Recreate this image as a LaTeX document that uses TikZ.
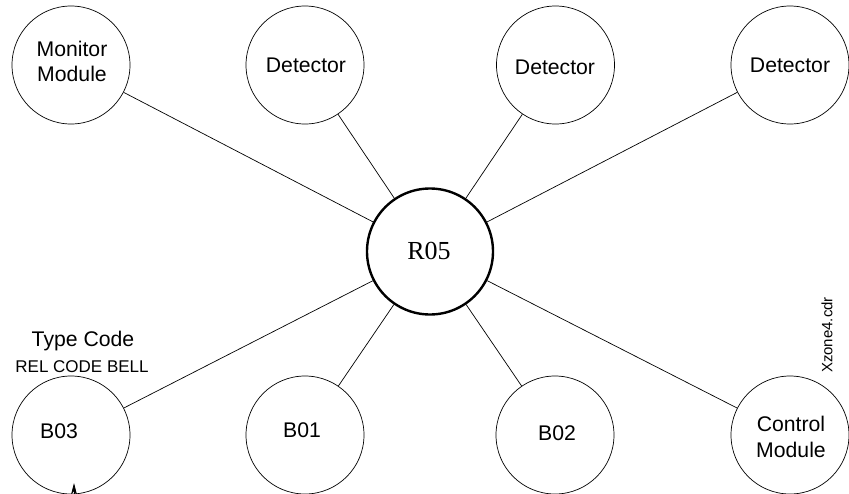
\documentclass[tikz,border=0pt]{standalone}
\usepackage{fontspec}
\setmainfont{Liberation Sans}
\newfontfamily\serifR{Liberation Serif}
\usetikzlibrary{arrows.meta}
\tikzset{
  dev/.style={circle, draw=black, line width=0.7pt, minimum size=118pt, inner sep=0pt},
  hub/.style={circle, draw=black, line width=2.4pt, minimum size=126pt, inner sep=0pt},
  txt/.style={inner sep=0pt, font=\fontsize{21.2}{24}\selectfont, text height=15.2pt, text depth=0pt},
  small/.style={inner sep=0pt, font=\fontsize{17}{20}\selectfont, text height=12.2pt, text depth=0pt},
  link/.style={draw=black, line width=0.7pt}
}
\begin{document}
\begin{tikzpicture}[x=1pt,y=-1pt]
\useasboundingbox (0,0) rectangle (849,493);
\clip (0,0) rectangle (849,493);
% circles
\node[dev] (mm) at (71,65) {};
\node[dev] (d1) at (305,65) {};
\node[dev] (d2) at (555.5,65) {};
\node[dev] (d3) at (790,65) {};
\node[dev] (b3) at (71,435) {};
\node[dev] (b1) at (305,435) {};
\node[dev] (b2) at (555,435) {};
\node[dev] (cm) at (790,435) {};
\node[hub] (r5) at (430,251.5) {};
% connectors
\foreach \n in {mm,d1,d2,d3,b3,b1,b2,cm}
  \draw[link] (r5) -- (\n);
% texts
\node[txt] (t-mon) at (72,49) {Monitor};
\node[txt] (t-mod) at (72,74) {Module};
\node[txt] (t-d1) at (306,65) {Detector};
\node[txt] (t-d2) at (555,67) {Detector};
\node[txt] (t-d3) at (790,65) {Detector};
\node[inner sep=0pt, font=\serifR\fontsize{26}{30}\selectfont, text height=17.2pt, text depth=0pt] (t-r5) at (429,251) {R05};
\node[txt] (t-type) at (83,339) {Type Code};
\node[small] (t-rel) at (82,366) {REL CODE BELL};
\node[txt] (t-b3) at (59,431) {B03};
\node[txt] (t-b1) at (302,429.5) {B01};
\node[txt] (t-b2) at (557,433) {B02};
\node[txt] (t-ctl) at (791,424) {Control};
\node[txt] (t-cmod) at (791,450) {Module};
\node[small, font=\fontsize{15}{18}\selectfont, text height=10.8pt, rotate=90] (t-file) at (827,335) {Xzone4.cdr};
% arrow at bottom of B03
\coordinate (arrfoot) at (74,510);
\coordinate (arrtip) at (74,483);
\draw[line width=0.7pt, -{Stealth[length=12pt,width=6pt]}] (arrfoot) -- (arrtip);
\end{tikzpicture}
\end{document}
